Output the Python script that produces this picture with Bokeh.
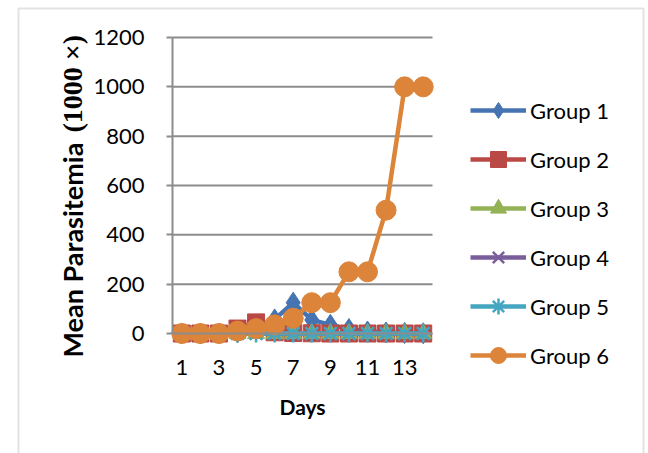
from math import pi

from bokeh.embed import file_html
from bokeh.models import (BoxAnnotation, FixedTicker, Label, Legend,
                          LegendItem, Range1d)
from bokeh.plotting import figure
from bokeh.resources import INLINE

# Mean parasitemia (x1000) per day for each group
days = list(range(1, 15))
group1 = [0, 0, 0, 5, 15, 57, 125, 55, 35, 18, 8, 4, 2, 1]
group2 = [0, 0, 0, 20, 45, 5, 2, 1, 0, 0, 0, 0, 0, 0]
group3 = [0, 0, 0, 0, 0, 0, 0, 0, 0, 0, 0, 0, 0, 0]
group4 = [0, 0, 0, 0, 0, 0, 0, 0, 0, 0, 0, 0, 0, 0]
group5 = [0, 0, 0, 0, 0, 0, 0, 0, 0, 0, 0, 0, 0, 0]
group6 = [0, 0, 0, 10, 20, 35, 62, 125, 125, 250, 250, 500, 1000, 1000]

series_names = ["Group 1", "Group 2", "Group 3", "Group 4", "Group 5", "Group 6"]
x_ticks = [1, 3, 5, 7, 9, 11, 13]
y_ticks = [0, 200, 400, 600, 800, 1000, 1200]

series = [group1, group2, group3, group4, group5, group6]
colors = ["#4674B2", "#BA4844", "#93B356", "#7A5E9C", "#44A6C0", "#DC843A"]
markers = ["diamond", "square", "triangle", "x", "asterisk", "circle"]
sizes = [21, 17, 17, 16, 18, 20]

FONT = "Lato"
GRID = "#8C8C8C"

# Canvas geometry: the plotting frame fills the whole canvas and the axes
# are pinned inside it, so the legend and titles outside the data area stay
# visible.
W, H = 648, 453
X_LO, X_HI = 0.5, 14.5          # category band edges
AREA_L, AREA_R = 172, 432       # pixel columns of the data area
Y_LO, Y_HI = 0, 1200
AREA_B, AREA_T = 333, 37        # pixel rows of y=0 and y=1200

sx = (X_HI - X_LO) / (AREA_R - AREA_L)
sy = (Y_HI - Y_LO) / (AREA_B - AREA_T)


def px_x(px):
    return X_LO + (px - AREA_L) * sx


def px_y(py):
    return Y_LO + (AREA_B - py) * sy


p = figure(width=W, height=H, output_backend="svg", toolbar_location=None,
           x_range=Range1d(px_x(0), px_x(W)), y_range=Range1d(px_y(H), px_y(0)),
           min_border=0)
p.outline_line_color = None
p.background_fill_color = "white"
p.border_fill_color = "white"
p.xgrid.visible = False
p.ygrid.visible = False

# axes pinned at the data area's edges
p.xaxis.fixed_location = Y_LO
p.yaxis.fixed_location = X_LO
p.xaxis.bounds = (X_LO, X_HI)
p.yaxis.bounds = (Y_LO, Y_HI)
p.xaxis.ticker = FixedTicker(ticks=x_ticks)
p.yaxis.ticker = FixedTicker(ticks=y_ticks)
for ax in (p.xaxis, p.yaxis):
    ax.axis_line_color = GRID
    ax.axis_line_width = 2
    ax.major_tick_line_color = GRID
    ax.major_tick_line_width = 2
    ax.minor_tick_line_color = None
    ax.major_label_text_font = FONT
    ax.major_label_text_font_size = "22px"
    ax.major_label_text_color = "black"
p.yaxis.major_tick_in = 0
p.yaxis.major_tick_out = 6
p.yaxis.major_label_standoff = 22
p.xaxis.major_tick_in = 0
p.xaxis.major_tick_out = 0
p.xaxis.major_label_standoff = 26
p.xaxis.axis_label = "Days"
p.xaxis.axis_label_text_font = FONT
p.xaxis.axis_label_text_font_style = "bold"
p.xaxis.axis_label_text_font_size = "21px"
p.xaxis.axis_label_text_color = "black"
p.xaxis.axis_label_standoff = 16

# horizontal gridlines across the data area
grid_y = y_ticks[1:]
p.segment(x0=[X_LO] * len(grid_y), x1=[X_HI] * len(grid_y), y0=grid_y,
          y1=grid_y, line_color=GRID, line_width=2)

# series
items = []
for name, vals, col, mk, sz in zip(series_names, series, colors, markers, sizes):
    ln = p.line(days, vals, line_color=col, line_width=4.5)
    sc = p.scatter(days, vals, marker=mk, size=sz, fill_color=col,
                   line_color=col, line_width=2.5 if mk in ("x", "asterisk") else 1)
    items.append(LegendItem(label=name, renderers=[ln, sc]))

LEG_LEFT, LEG_TOP, ITEM_H, GAP = 470, 90, 40, 9
leg_h = len(items) * ITEM_H + (len(items) - 1) * GAP
legend = Legend(items=items, location=(LEG_LEFT, H - (LEG_TOP + leg_h)),
                orientation="vertical", glyph_width=56, glyph_height=ITEM_H,
                spacing=GAP, padding=0, margin=0, label_standoff=4,
                border_line_color=None, background_fill_alpha=0,
                label_text_font=FONT, label_text_font_size="22px",
                label_text_color="black")
p.add_layout(legend, "center")

# y-axis title, sans part and serif part
p.add_layout(Label(x=px_x(72), y=px_y(357), text="Mean Parasitemia",
                   angle=pi / 2, text_align="left", text_baseline="middle",
                   text_font=FONT, text_font_style="bold",
                   text_font_size="27px", text_color="black"))
p.add_layout(Label(x=px_x(72), y=px_y(132), text="(1000 ×)",
                   angle=pi / 2, text_align="left", text_baseline="middle",
                   text_font="Liberation Serif", text_font_style="bold",
                   text_font_size="28px", text_color="black"))

# chart area border
p.add_layout(BoxAnnotation(left=px_x(18), right=px_x(643), top=px_y(8),
                           bottom=px_y(H + 20), fill_alpha=0,
                           line_color="#A0A0A0", line_width=2))

open("out.html", "w").write(file_html(p, INLINE))
